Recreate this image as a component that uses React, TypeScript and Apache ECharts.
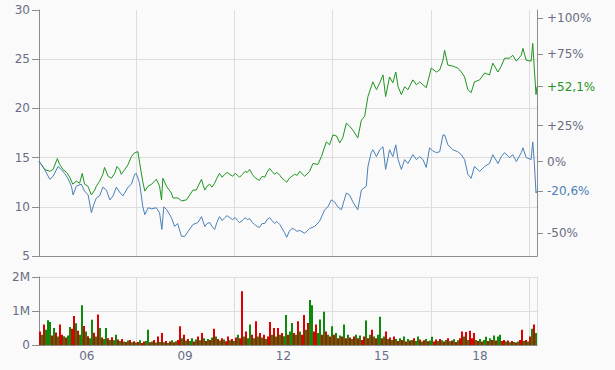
import React, { useEffect, useRef } from "react";
import * as echarts from "echarts";

const T_START = 2005.04;
const T_END = 2020.24;
const gridYears = [2008, 2011, 2014, 2017, 2020];
const labelYears = [2006.5, 2009.5, 2012.5, 2015.5, 2018.5];

const greenPts: [number, number][] = [
  [2005.04, 14.6], [2005.11, 14.3], [2005.21, 13.8], [2005.37, 13.6], [2005.47, 13.8], [2005.6, 14.9],
  [2005.67, 14.3], [2005.77, 13.8], [2005.88, 13.5], [2005.98, 13.0], [2006.07, 12.3], [2006.18, 12.6],
  [2006.28, 12.4], [2006.36, 13.4], [2006.43, 12.3], [2006.53, 12.1], [2006.64, 11.2], [2006.74, 11.7],
  [2006.79, 12.1], [2006.89, 12.6], [2006.99, 13.3], [2007.04, 14.0], [2007.15, 13.1], [2007.25, 12.9],
  [2007.35, 13.4], [2007.42, 14.1], [2007.5, 13.8], [2007.55, 13.3], [2007.66, 13.8], [2007.76, 14.3],
  [2007.86, 15.1], [2007.96, 15.5], [2008.06, 15.6], [2008.11, 14.5], [2008.21, 12.5], [2008.27, 11.6],
  [2008.37, 12.1], [2008.48, 12.3], [2008.62, 12.8], [2008.72, 12.1], [2008.78, 10.7], [2008.82, 12.9],
  [2008.93, 12.1], [2009.08, 11.4], [2009.13, 10.9], [2009.28, 10.9], [2009.39, 10.6], [2009.54, 10.7],
  [2009.64, 11.2], [2009.74, 11.7], [2009.84, 11.7], [2010.0, 12.8], [2010.05, 12.2], [2010.1, 11.7],
  [2010.17, 12.1], [2010.25, 12.3], [2010.32, 12.0], [2010.4, 12.4], [2010.47, 12.9], [2010.55, 13.4],
  [2010.63, 13.0], [2010.71, 13.3], [2010.78, 13.5], [2010.86, 13.3], [2010.95, 13.1], [2011.03, 13.4],
  [2011.1, 13.2], [2011.16, 13.0], [2011.25, 13.3], [2011.33, 13.6], [2011.4, 13.5], [2011.47, 13.8],
  [2011.55, 13.3], [2011.62, 13.0], [2011.7, 12.8], [2011.77, 12.7], [2011.85, 13.1], [2011.93, 13.0],
  [2012.0, 13.5], [2012.08, 13.9], [2012.15, 13.6], [2012.23, 13.3], [2012.3, 13.5], [2012.39, 13.2],
  [2012.46, 12.9], [2012.53, 12.7], [2012.6, 12.5], [2012.68, 12.9], [2012.76, 13.1], [2012.84, 13.3],
  [2012.92, 13.2], [2013.0, 13.6], [2013.15, 13.1], [2013.3, 13.6], [2013.4, 14.4], [2013.55, 14.3],
  [2013.66, 15.1], [2013.81, 16.6], [2013.91, 16.3], [2014.01, 17.3], [2014.12, 17.2], [2014.22, 16.5],
  [2014.31, 17.0], [2014.42, 18.5], [2014.52, 18.2], [2014.62, 17.8], [2014.77, 17.0], [2014.88, 18.8],
  [2014.98, 19.2], [2015.08, 21.2], [2015.18, 22.2], [2015.23, 22.7], [2015.34, 21.9], [2015.44, 22.6],
  [2015.54, 23.4], [2015.62, 21.2], [2015.74, 23.2], [2015.84, 22.6], [2015.93, 23.7], [2016.0, 22.2],
  [2016.1, 21.4], [2016.2, 22.2], [2016.3, 21.9], [2016.45, 22.9], [2016.56, 22.4], [2016.66, 22.7],
  [2016.76, 22.4], [2016.86, 22.1], [2016.96, 23.4], [2017.01, 24.1], [2017.17, 23.7], [2017.27, 23.9],
  [2017.37, 24.9], [2017.42, 25.9], [2017.52, 24.4], [2017.67, 24.3], [2017.82, 24.1], [2017.93, 23.7],
  [2018.03, 23.2], [2018.13, 21.9], [2018.23, 21.6], [2018.33, 22.7], [2018.49, 22.9], [2018.64, 23.6],
  [2018.79, 23.4], [2018.89, 24.6], [2019.05, 23.7], [2019.15, 24.3], [2019.25, 25.1], [2019.4, 25.1],
  [2019.5, 25.4], [2019.61, 24.8], [2019.76, 25.4], [2019.81, 26.1], [2019.91, 24.9], [2020.06, 24.8],
  [2020.11, 26.6], [2020.16, 23.9], [2020.21, 21.4], [2020.24, 22.21],
];

const bluePts: [number, number][] = [
  [2005.04, 14.6], [2005.16, 14.1], [2005.37, 12.8], [2005.47, 13.1], [2005.62, 14.1], [2005.72, 13.8],
  [2005.82, 13.4], [2005.92, 12.9], [2006.03, 12.1], [2006.08, 11.2], [2006.18, 12.1], [2006.33, 12.3],
  [2006.43, 11.6], [2006.54, 11.2], [2006.64, 9.4], [2006.71, 10.2], [2006.79, 10.9], [2006.89, 11.1],
  [2006.99, 12.0], [2007.1, 11.7], [2007.2, 10.7], [2007.3, 11.1], [2007.4, 12.0], [2007.5, 11.5],
  [2007.6, 11.1], [2007.76, 12.0], [2007.86, 12.3], [2007.96, 13.3], [2008.01, 13.4], [2008.11, 12.4],
  [2008.21, 10.0], [2008.27, 9.2], [2008.37, 9.9], [2008.48, 9.8], [2008.62, 9.9], [2008.72, 9.4],
  [2008.79, 7.7], [2008.85, 10.0], [2008.94, 9.7], [2009.08, 8.9], [2009.18, 8.0], [2009.27, 8.3],
  [2009.39, 7.0], [2009.49, 7.0], [2009.59, 7.5], [2009.74, 8.2], [2009.89, 8.4], [2010.0, 9.0],
  [2010.05, 8.5], [2010.1, 8.0], [2010.17, 8.3], [2010.25, 8.4], [2010.32, 8.0], [2010.4, 7.7],
  [2010.47, 8.4], [2010.55, 9.0], [2010.63, 8.6], [2010.71, 8.9], [2010.78, 9.1], [2010.86, 8.9],
  [2010.95, 8.7], [2011.03, 8.9], [2011.1, 8.6], [2011.16, 8.4], [2011.25, 8.6], [2011.33, 8.9],
  [2011.4, 8.7], [2011.47, 8.8], [2011.55, 8.4], [2011.62, 8.2], [2011.7, 8.0], [2011.77, 7.9],
  [2011.85, 8.3], [2011.93, 8.3], [2012.0, 8.7], [2012.08, 8.9], [2012.15, 8.6], [2012.23, 8.3],
  [2012.3, 8.5], [2012.39, 8.2], [2012.46, 7.8], [2012.53, 7.4], [2012.6, 6.9], [2012.68, 7.5],
  [2012.76, 7.8], [2012.84, 7.7], [2012.92, 7.5], [2013.0, 7.6], [2013.15, 7.3], [2013.3, 7.8],
  [2013.45, 8.0], [2013.6, 8.5], [2013.76, 9.7], [2013.86, 10.0], [2013.96, 10.7], [2014.06, 10.5],
  [2014.16, 10.0], [2014.27, 9.7], [2014.42, 11.4], [2014.52, 11.2], [2014.62, 10.5], [2014.77, 9.7],
  [2014.88, 11.7], [2015.03, 12.1], [2015.08, 14.1], [2015.18, 15.5], [2015.23, 15.8], [2015.34, 15.1],
  [2015.44, 15.8], [2015.54, 16.1], [2015.62, 13.8], [2015.74, 15.8], [2015.84, 15.1], [2015.93, 16.3],
  [2016.0, 14.8], [2016.1, 13.8], [2016.2, 14.8], [2016.3, 14.4], [2016.45, 15.3], [2016.56, 14.8],
  [2016.66, 15.1], [2016.76, 14.8], [2016.86, 14.0], [2016.96, 16.0], [2017.05, 15.7], [2017.17, 15.5],
  [2017.27, 15.6], [2017.37, 17.3], [2017.42, 17.3], [2017.52, 16.3], [2017.67, 15.8], [2017.82, 15.6],
  [2017.93, 15.3], [2018.03, 14.8], [2018.13, 13.3], [2018.23, 12.9], [2018.33, 14.1], [2018.49, 13.6],
  [2018.64, 14.1], [2018.79, 14.4], [2018.89, 15.3], [2019.05, 14.4], [2019.15, 15.1], [2019.25, 15.5],
  [2019.4, 15.0], [2019.5, 15.3], [2019.61, 14.6], [2019.76, 15.5], [2019.81, 16.0], [2019.91, 15.0],
  [2020.06, 14.8], [2020.11, 16.6], [2020.16, 14.4], [2020.21, 11.4], [2020.24, 11.59],
];

// volume in thousands, one bar per step from T_START to T_END
const volume = [
  400, 300, 600, 450, 730, 680, 280, 500, 370, 250,
  600, 300, 260, 220, 280, 530, 480, 850, 640, 420,
  300, 1170, 560, 400, 260, 200, 740, 360, 250, 900,
  500, 220, 180, 500, 200, 150, 230, 140, 300, 160,
  120, 180, 100, 90, 130, 150, 80, 110, 70, 90,
  140, 60, 100, 120, 450, 80, 100, 150, 70, 250,
  90, 350, 80, 120, 60, 100, 140, 80, 110, 150,
  550, 200, 300, 130, 180, 120, 200, 100, 160, 250,
  140, 350, 200, 120, 180, 150, 220, 480, 250, 180,
  130, 200, 160, 110, 250, 140, 180, 120, 220, 300,
  200, 1580, 250, 400, 200, 600, 300, 200, 700, 250,
  350, 220, 300, 180, 250, 680, 300, 500, 250, 500,
  300, 350, 260, 880, 300, 400, 650, 350, 300, 700,
  400, 300, 880, 450, 650, 1320, 1170, 400, 600, 350,
  750, 300, 980, 400, 300, 250, 550, 300, 350, 200,
  280, 250, 600, 200, 300, 220, 180, 250, 300, 200,
  280, 150, 250, 720, 200, 300, 450, 250, 200, 300,
  830, 200, 250, 400, 180, 220, 150, 250, 180, 120,
  200, 150, 250, 100, 180, 130, 150, 200, 120, 250,
  160, 100, 140, 180, 110, 130, 240, 100, 160, 120,
  180, 140, 100, 150, 200, 110, 130, 170, 90, 140,
  200, 400, 250, 380, 150, 420, 200, 350, 150, 120,
  180, 100, 150, 240, 120, 200, 150, 280, 130, 250,
  300, 120, 150, 100, 130, 80, 120, 90, 70, 100,
  150, 450, 120, 150, 100, 250, 480, 600, 350,
];
// 1 = up day (green), 0 = down day (red)
const volUp = [
  0, 1, 0, 1, 1, 1, 0, 1, 0, 1,
  0, 0, 1, 0, 1, 1, 0, 0, 1, 0,
  1, 1, 0, 1, 0, 1, 1, 0, 1, 0,
  1, 0, 1, 1, 0, 1, 0, 1, 1, 0,
  1, 0, 1, 0, 1, 0, 1, 0, 1, 0,
  1, 0, 0, 1, 1, 0, 1, 0, 1, 0,
  1, 0, 1, 0, 1, 0, 1, 0, 1, 0,
  0, 1, 0, 1, 0, 1, 1, 0, 1, 0,
  1, 0, 1, 0, 1, 0, 1, 0, 1, 0,
  1, 0, 1, 0, 0, 1, 0, 1, 0, 1,
  0, 0, 1, 0, 1, 1, 0, 1, 0, 1,
  0, 1, 0, 1, 0, 0, 1, 0, 1, 0,
  1, 0, 1, 1, 0, 1, 1, 0, 1, 0,
  1, 0, 0, 1, 0, 1, 1, 0, 0, 1,
  1, 0, 1, 0, 1, 0, 1, 0, 1, 0,
  1, 0, 1, 0, 1, 0, 1, 0, 1, 0,
  1, 0, 0, 1, 0, 1, 0, 1, 0, 1,
  1, 0, 1, 0, 1, 0, 1, 0, 1, 0,
  1, 0, 1, 0, 1, 0, 1, 0, 1, 1,
  0, 1, 0, 1, 0, 1, 1, 0, 0, 1,
  0, 1, 0, 1, 0, 1, 0, 1, 0, 1,
  0, 0, 1, 0, 1, 0, 0, 0, 1, 0,
  1, 0, 1, 1, 0, 1, 0, 1, 0, 1,
  1, 0, 0, 1, 0, 1, 0, 1, 0, 1,
  0, 0, 1, 0, 1, 0, 1, 0, 1,
];

const GREEN = "#1f941f";
const BLUE = "#4a80b8";
const VOL_GREEN = "#0b8a0b";
const VOL_RED = "#dd0000";
const LABEL = "#696c84";
const AXIS = "#8c8c8c";
const GRID = "#dddddd";
const FONT = "DejaVu Sans";

export default function App() {
  const ref = useRef<HTMLDivElement>(null);
  useEffect(() => {
    if (!ref.current) return;
    const chart = echarts.init(ref.current, undefined, { renderer: "svg" });
    const base = greenPts[0][1];
    const lastG = greenPts[greenPts.length - 1][1];
    const lastB = bluePts[bluePts.length - 1][1];
    const rightTicks = [base * 2, base * 1.75, lastG, base * 1.25, base, lastB, base * 0.5];
    const fmtPct = (v: number) => {
      const p = (v / base - 1) * 100;
      const r = Math.round(p);
      let s = Math.abs(p - r) < 0.01 ? String(r) : p.toFixed(1).replace(".", ",");
      if (p > 0.01) s = "+" + s;
      return s + "%";
    };
    const step = (T_END - T_START) / volume.length;
    const volData = volume.map((v, i) => ({
      value: [T_START + (i + 0.5) * step, v],
      itemStyle: { color: volUp[i] ? VOL_GREEN : VOL_RED },
    }));
    const textStyle = { color: LABEL, fontFamily: FONT, fontSize: 12 };
    chart.setOption({
      animation: false,
      backgroundColor: "#fafafa",
      textStyle: { fontFamily: FONT },
      grid: [
        { left: 39, right: 78, top: 10, height: 246 },
        { left: 39, right: 78, top: 277, height: 68 },
      ],
      xAxis: [
        {
          type: "value", gridIndex: 0, min: T_START, max: T_END,
          axisLine: { show: true, lineStyle: { color: AXIS } },
          axisTick: { show: false, customValues: gridYears },
          axisLabel: { show: false },
          splitLine: { show: true, lineStyle: { color: GRID } },
        },
        {
          type: "value", gridIndex: 1, min: T_START, max: T_END,
          axisLine: { show: true, lineStyle: { color: AXIS } },
          axisTick: { show: false, customValues: gridYears },
          axisLabel: {
            ...textStyle, margin: 5, customValues: labelYears,
            formatter: (v: number) => String(Math.floor(v) % 100).padStart(2, "0"),
          },
          splitLine: { show: true, lineStyle: { color: GRID } },
        },
      ],
      yAxis: [
        {
          type: "value", gridIndex: 0, min: 5, max: 30, interval: 5,
          axisLine: { show: true, lineStyle: { color: AXIS } },
          axisTick: { show: true, length: 7, lineStyle: { color: AXIS } },
          axisLabel: { ...textStyle, margin: 9 },
          splitLine: { show: true, showMaxLine: false, lineStyle: { color: GRID } },
        },
        {
          type: "value", gridIndex: 0, position: "right", min: 5, max: 30,
          axisLine: { show: true, lineStyle: { color: AXIS } },
          axisTick: { show: true, length: 6, customValues: rightTicks, lineStyle: { color: AXIS } },
          axisLabel: {
            ...textStyle, margin: 10, customValues: rightTicks,
            formatter: (v: number) => fmtPct(Number(v)),
            color: (v: any) => {
              const n = parseFloat(v);
              if (Math.abs(n - lastG) < 1e-6) return GREEN;
              if (Math.abs(n - lastB) < 1e-6) return BLUE;
              return LABEL;
            },
          },
          splitLine: { show: false },
        },
        {
          type: "value", gridIndex: 1, min: 0, max: 2000, interval: 1000,
          axisLine: { show: true, lineStyle: { color: AXIS } },
          axisTick: { show: true, length: 7, lineStyle: { color: AXIS } },
          axisLabel: {
            ...textStyle, margin: 9,
            formatter: (v: number) => (v === 0 ? "0" : v / 1000 + "M"),
          },
          splitLine: { show: true, lineStyle: { color: GRID } },
        },
        {
          type: "value", gridIndex: 1, position: "right", min: 0, max: 2000,
          axisLine: { show: true, lineStyle: { color: GRID } },
          axisTick: { show: false },
          axisLabel: { show: false },
          splitLine: { show: false },
        },
      ],
      series: [
        {
          type: "line", xAxisIndex: 0, yAxisIndex: 0, data: greenPts,
          showSymbol: false, symbol: "none", lineStyle: { color: GREEN, width: 1 },
          itemStyle: { color: GREEN },
        },
        {
          type: "line", xAxisIndex: 0, yAxisIndex: 0, data: bluePts,
          showSymbol: false, symbol: "none", lineStyle: { color: BLUE, width: 1 },
          itemStyle: { color: BLUE },
        },
        {
          type: "bar", xAxisIndex: 1, yAxisIndex: 2, data: volData,
          barWidth: 2, barGap: "-100%",
        },
      ],
    });
    return () => chart.dispose();
  }, []);
  return (
    <div
      ref={ref}
      style={{ position: "fixed", left: 0, top: 0, width: 615, height: 370, background: "#fafafa" }}
    />
  );
}
